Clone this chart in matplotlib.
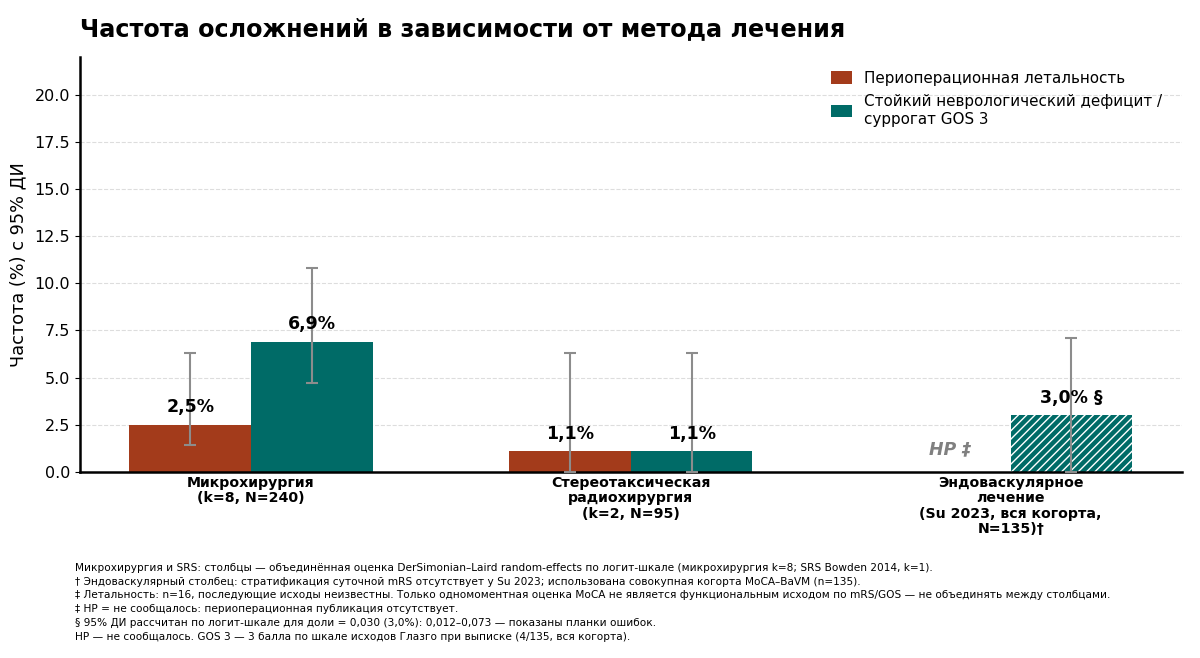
import matplotlib
matplotlib.use("Agg")
import matplotlib.pyplot as plt
import numpy as np

plt.rcParams['font.family'] = ['DejaVu Sans']

categories = ["Микрохирургия\n(k=8, N=240)",
              "Стереотаксическая\nрадиохирургия\n(k=2, N=95)",
              "Эндоваскулярное\nлечение\n(Su 2023, вся когорта,\nN=135)†"]
series_names = ["Периоперационная летальность",
                "Стойкий неврологический дефицит /\nсуррогат GOS 3"]
mortality = [2.5, 1.1, None]
mort_lo = [1.4, 0.0, None]
mort_hi = [6.3, 6.3, None]
deficit = [6.9, 1.1, 3.0]
def_lo = [4.7, 0.0, 0.0]
def_hi = [10.8, 6.3, 7.1]
mort_labels = ["2,5%", "1,1%", "НР ‡"]
def_labels = ["6,9%", "1,1%", "3,0% §"]
footnotes = [
    "Микрохирургия и SRS: столбцы — объединённая оценка DerSimonian–Laird random-effects по логит-шкале (микрохирургия k=8; SRS Bowden 2014, k=1).",
    "† Эндоваскулярный столбец: стратификация суточной mRS отсутствует у Su 2023; использована совокупная когорта MoCA–BaVM (n=135).",
    "‡ Летальность: n=16, последующие исходы неизвестны. Только одномоментная оценка MoCA не является функциональным исходом по mRS/GOS — не объединять между столбцами.",
    "‡ НР = не сообщалось: периоперационная публикация отсутствует.",
    "§ 95% ДИ рассчитан по логит-шкале для доли = 0,030 (3,0%): 0,012–0,073 — показаны планки ошибок.",
    "НР — не сообщалось. GOS 3 — 3 балла по шкале исходов Глазго при выписке (4/135, вся когорта).",
]

RED = "#A33B1B"
TEAL = "#006B67"
ERR = "#8C8C8C"

fig = plt.figure(figsize=(12, 6.58), dpi=100)
ax = fig.add_axes([0.0667, 0.283, 0.918, 0.630])

x = np.arange(len(categories))
w = 0.32

for i in range(len(categories)):
    if mortality[i] is not None:
        ax.bar(x[i] - w / 2, mortality[i], w, color=RED, zorder=2,
               label=series_names[0] if i == 0 else None)
        ax.errorbar(x[i] - w / 2, mortality[i],
                    yerr=[[mortality[i] - mort_lo[i]], [mort_hi[i] - mortality[i]]],
                    fmt='none', ecolor=ERR, elinewidth=1.5, capsize=4, capthick=1.5, zorder=3)
        ax.text(x[i] - w / 2, mortality[i] + 0.45, mort_labels[i], ha='center', va='bottom',
                fontsize=12.5, fontweight='bold', zorder=4)
    else:
        ax.text(x[i] - w / 2, 1.2, mort_labels[i], ha='center', va='center',
                fontsize=12.5, fontweight='bold', fontstyle='italic', color='#808080', zorder=4)
    hatched = i == 2
    if hatched:
        ax.bar(x[i] + w / 2, deficit[i], w, color=TEAL, edgecolor='white', linewidth=0,
               hatch='////', zorder=2)
    else:
        ax.bar(x[i] + w / 2, deficit[i], w, color=TEAL, zorder=2,
               label=series_names[1] if i == 0 else None)
    ax.errorbar(x[i] + w / 2, deficit[i],
                yerr=[[deficit[i] - def_lo[i]], [def_hi[i] - deficit[i]]],
                fmt='none', ecolor=ERR, elinewidth=1.5, capsize=4, capthick=1.5, zorder=3)
    ax.text(x[i] + w / 2, deficit[i] + 0.45, def_labels[i], ha='center', va='bottom',
            fontsize=12.5, fontweight='bold', zorder=4)

ax.set_xlim(-0.45, 2.45)
ax.set_ylim(0, 22)
ax.set_yticks(np.arange(0, 20.1, 2.5))
ax.set_yticklabels([f"{v:.1f}" for v in np.arange(0, 20.1, 2.5)], fontsize=11.5)
ax.set_xticks(x)
ax.set_xticklabels(categories, fontsize=10.2, fontweight='bold', linespacing=1.13)
ax.tick_params(axis='x', length=0, pad=3)
ax.set_ylabel("Частота (%) с 95% ДИ", fontsize=12.8)
ax.yaxis.set_label_coords(-0.048, 0.5)
ax.yaxis.grid(True, linestyle='--', color='#DDDDDD', linewidth=0.8, zorder=0)
ax.set_axisbelow(True)
for s in ['top', 'right']:
    ax.spines[s].set_visible(False)
for s in ['left', 'bottom']:
    ax.spines[s].set_linewidth(1.8)

ax.legend(loc='upper right', frameon=False, fontsize=10.9, bbox_to_anchor=(0.995, 1.0),
          handlelength=1.4, handleheight=0.9, handletextpad=0.8, labelspacing=0.55)

fig.text(0.0667, 0.955, "Частота осложнений в зависимости от метода лечения",
         fontsize=17.2, fontweight='bold', ha='left', va='center')

y0 = 1 - 568 / 658
for j, line in enumerate(footnotes):
    fig.text(75 / 1200, y0 - j * 13.7 / 658, line, fontsize=7.6, ha='left', va='center')

fig.savefig("out.png", dpi=100)
